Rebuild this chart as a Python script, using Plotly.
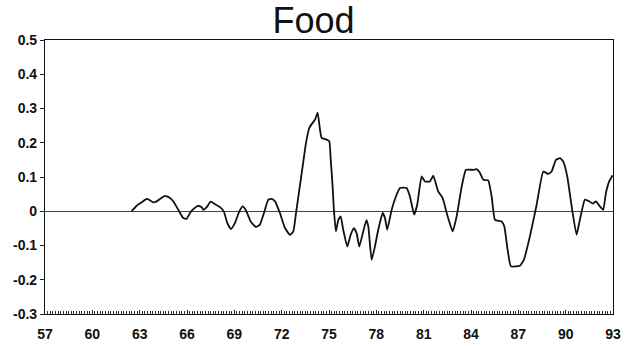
import plotly.graph_objects as go

# Food price series: decimal year (two-digit, 19xx) and value
years = [
    62.49, 62.81, 63.13, 63.44, 63.65, 63.86, 64.08, 64.29, 64.60, 64.92,
    65.13, 65.45, 65.76, 65.98, 66.19, 66.40, 66.71, 66.93, 67.03, 67.25,
    67.50, 67.77, 68.09, 68.34, 68.55, 68.79, 69.04, 69.31, 69.53, 69.74,
    70.04, 70.37, 70.62, 70.88, 71.15, 71.37, 71.58, 71.89, 72.21, 72.53,
    72.74, 72.91, 73.12, 73.33, 73.54, 73.75, 73.96, 74.11, 74.28, 74.43,
    74.53, 74.85, 75.02, 75.11, 75.23, 75.31, 75.44, 75.59, 75.74, 75.90,
    76.16, 76.37, 76.58, 76.75, 76.92, 77.17, 77.37, 77.49, 77.70, 77.91,
    78.12, 78.40, 78.55, 78.69, 78.97, 79.24, 79.50, 79.92, 80.13, 80.40,
    80.59, 80.87, 81.08, 81.40, 81.61, 81.92, 82.20, 82.49, 82.84, 83.09,
    83.41, 83.68, 84.14, 84.36, 84.57, 84.78, 85.09, 85.31, 85.52, 85.94,
    86.11, 86.32, 86.53, 87.10, 87.35, 87.73, 88.16, 88.58, 88.89, 89.11,
    89.38, 89.64, 89.85, 90.10, 90.38, 90.69, 90.90, 91.22, 91.49, 91.71,
    91.92, 92.17, 92.38, 92.55, 92.76, 92.98,
]
values = [
    0.000, 0.016, 0.026, 0.036, 0.032, 0.026, 0.029, 0.036, 0.045, 0.039,
    0.029, 0.004, -0.020, -0.022, -0.005, 0.006, 0.016, 0.012, 0.004, 0.012,
    0.028, 0.021, 0.012, -0.001, -0.034, -0.052, -0.034, -0.001, 0.014, 0.002,
    -0.030, -0.046, -0.039, -0.005, 0.034, 0.036, 0.029, -0.005, -0.049, -0.069,
    -0.059, -0.005, 0.063, 0.131, 0.199, 0.243, 0.258, 0.267, 0.288, 0.238,
    0.214, 0.209, 0.204, 0.150, 0.072, 0.004, -0.059, -0.025, -0.015, -0.054,
    -0.103, -0.069, -0.049, -0.064, -0.103, -0.059, -0.026, -0.044, -0.142, -0.103,
    -0.054, -0.005, -0.020, -0.054, 0.004, 0.043, 0.068, 0.068, 0.043, -0.010,
    0.019, 0.102, 0.087, 0.087, 0.104, 0.058, 0.039, -0.010, -0.059, -0.015,
    0.072, 0.121, 0.121, 0.123, 0.112, 0.092, 0.090, 0.043, -0.025, -0.030,
    -0.044, -0.112, -0.161, -0.159, -0.142, -0.074, 0.019, 0.116, 0.109, 0.116,
    0.150, 0.155, 0.145, 0.102, 0.014, -0.069, -0.025, 0.034, 0.029, 0.022,
    0.029, 0.014, 0.004, 0.053, 0.087, 0.105,
]

x_ticks = list(range(57, 94, 3))
x_tick_labels = [f"<b>{t}</b>" for t in x_ticks]
y_ticks = [0.5, 0.4, 0.3, 0.2, 0.1, 0, -0.1, -0.2, -0.3]
y_tick_labels = [f"<b>{t}</b>" for t in
                 ["0.5", "0.4", "0.3", "0.2", "0.1", "0", "-0.1", "-0.2", "-0.3"]]

fig = go.Figure()
fig.add_trace(go.Scatter(
    x=years, y=values, mode="lines",
    line=dict(color="#111111", width=1.8, shape="spline", smoothing=0.4),
    showlegend=False,
))

tick_font = dict(family="Liberation Sans, Arial, sans-serif", size=14, color="#111111")

fig.update_layout(
    width=627, height=346,
    margin=dict(l=45, r=14, t=40, b=32),
    paper_bgcolor="white", plot_bgcolor="white",
    title=dict(text="Food", x=0.5, xanchor="center", y=0.94, yanchor="middle",
               font=dict(family="Liberation Sans, Arial, sans-serif", size=36, color="#111111")),
    xaxis=dict(
        range=[57, 93], tickmode="array", tickvals=x_ticks, ticktext=x_tick_labels,
        ticks="inside", ticklen=4, tickcolor="#222222", ticklabelstandoff=7,
        minor=dict(dtick=1/6, tick0=57, ticks="inside", ticklen=3, tickcolor="#333333"),
        showgrid=False, zeroline=False, automargin=False,
        showline=True, linecolor="#111111", linewidth=1.2, mirror=True,
        tickfont=tick_font,
    ),
    yaxis=dict(
        range=[-0.3, 0.5], tickmode="array", tickvals=y_ticks, ticktext=y_tick_labels,
        ticks="outside", ticklen=4, tickcolor="#222222", automargin=False,
        showgrid=False, zeroline=True, zerolinecolor="#444444", zerolinewidth=1.2,
        showline=True, linecolor="#111111", linewidth=1.2, mirror=True,
        tickfont=tick_font,
    ),
)

fig.write_html("out.html")
